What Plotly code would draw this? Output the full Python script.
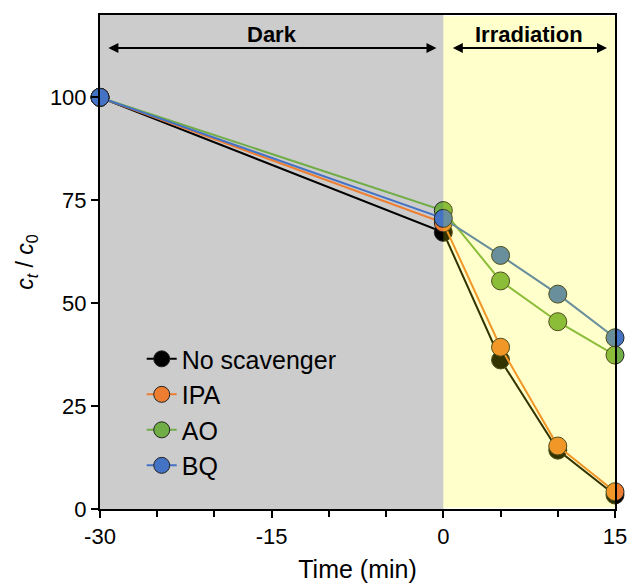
import plotly.graph_objects as go

time = [-30, 0, 5, 10, 15]
no_scavenger = [100, 67.2, 36.2, 14.3, 3.4]
ipa = [100, 69.5, 39.3, 15.3, 4.2]
ao = [100, 72.5, 55.4, 45.5, 37.4]
bq = [100, 70.6, 61.6, 52.2, 41.6]

series = [
    ("No scavenger", no_scavenger, "#000000"),
    ("IPA", ipa, "#ED7D31"),
    ("AO", ao, "#70AD47"),
    ("BQ", bq, "#4472C4"),
]

x_ticks = [-30, -15, 0, 15]
y_ticks = [0, 25, 50, 75, 100]

font = "Liberation Sans, Arial, sans-serif"

fig = go.Figure()
for name, vals, col in series:
    fig.add_trace(go.Scatter(
        x=time, y=vals, name=name, mode="lines+markers", legendgroup=name,
        line=dict(color=col, width=2),
        marker=dict(color=col, size=18, line=dict(color="#222222", width=1)),
        cliponaxis=False,
    ))

fig.add_shape(type="rect", xref="x", yref="y", x0=-30, x1=0, y0=0, y1=120,
              fillcolor="#CCCCCC", line=dict(width=0), layer="below")
fig.add_shape(type="rect", xref="x", yref="y", x0=0, x1=15, y0=0.3, y1=119.7,
              fillcolor="#FFFF00", opacity=0.2, line=dict(width=0), layer="above")

# arrows
fig.add_annotation(x=-0.6, y=112, ax=-29.4, ay=112, xref="x", yref="y", axref="x", ayref="y",
                   text="", showarrow=True, arrowhead=2, arrowside="end+start",
                   arrowsize=1, arrowwidth=2, arrowcolor="black")
fig.add_annotation(x=14.3, y=112, ax=0.7, ay=112, xref="x", yref="y", axref="x", ayref="y",
                   text="", showarrow=True, arrowhead=2, arrowside="end+start",
                   arrowsize=1, arrowwidth=2, arrowcolor="black")
fig.add_annotation(x=-15, y=115.3, xref="x", yref="y", text="<b>Dark</b>", showarrow=False,
                   font=dict(family=font, size=22, color="black"))
fig.add_annotation(x=7.5, y=115.3, xref="x", yref="y", text="<b>Irradiation</b>", showarrow=False,
                   font=dict(family=font, size=22, color="black"))

fig.update_xaxes(range=[-30, 15], tickvals=x_ticks, ticktext=[str(v) for v in x_ticks],
                 ticks="outside", ticklen=7, tickwidth=2, tickcolor="black",
                 minor=dict(dtick=5, tick0=0, ticks="outside", ticklen=6, tickwidth=1.5, tickcolor="black"),
                 showline=True, linecolor="black", linewidth=2, mirror=True,
                 showgrid=False, zeroline=False, automargin=False, ticklabeloverflow="allow",
                 tickfont=dict(family=font, size=22, color="black"),
                 title=dict(text="Time (min)", font=dict(family=font, size=25, color="black"), standoff=12))
fig.update_yaxes(range=[0, 120], tickvals=y_ticks, ticks="outside", ticklen=7, tickwidth=2, tickcolor="black",
                 showline=True, linecolor="black", linewidth=2, mirror=True,
                 showgrid=False, zeroline=False, automargin=False, ticklabeloverflow="allow",
                 tickfont=dict(family=font, size=22, color="black"),
                 title=dict(text="<i>c</i><sub><i>t</i></sub> / <i>c</i><sub>0</sub>",
                            font=dict(family=font, size=23, color="black"), standoff=10))

fig.update_layout(
    width=627, height=583,
    margin=dict(l=100, r=12, t=15, b=74),
    plot_bgcolor="white", paper_bgcolor="white",
    showlegend=True,
    legend=dict(x=0.081, y=0.35, xanchor="left", yanchor="top", bgcolor="rgba(0,0,0,0)",
                font=dict(family=font, size=25, color="black"), tracegroupgap=0, itemwidth=30),
)

fig.write_html("out.html", config={"displayModeBar": False},
               post_script="document.body.style.margin='0';document.body.style.overflow='hidden';")
